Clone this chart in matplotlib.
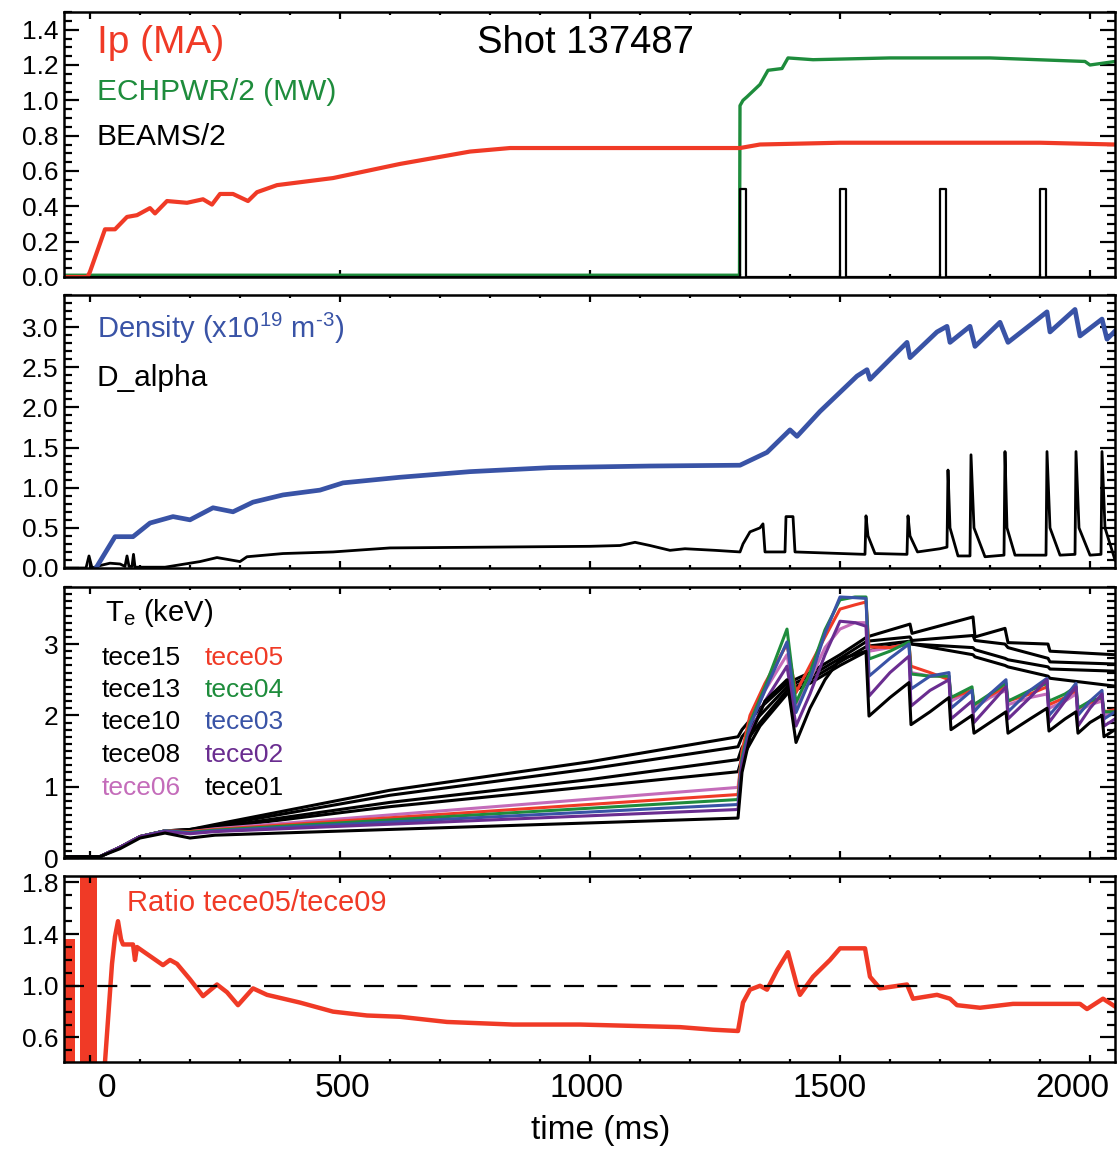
import matplotlib
matplotlib.use("Agg")
import matplotlib.pyplot as plt
from matplotlib.ticker import MultipleLocator, FixedLocator, FormatStrFormatter
from matplotlib.transforms import ScaledTranslation

plt.rcParams['font.family'] = ['Liberation Sans', 'DejaVu Sans']
plt.rcParams['mathtext.fontset'] = 'custom'
plt.rcParams['mathtext.rm'] = 'Liberation Sans'
plt.rcParams['mathtext.it'] = 'Liberation Sans:italic'

# --- Farben ---
RED = "#f03a26"
GREEN = "#1e8c3c"
BLUE = "#3953a6"
PURPLE = "#6a2d90"
MAGENTA = "#c46cba"

# --- Panel 1: Ip, ECH, Beams ---
ip_t = [-52, -5, 0, 30, 50, 74, 94, 120, 130, 154, 194, 226, 244, 260, 286, 316, 334,
        374, 486, 620, 760, 840, 1000, 1200, 1300, 1340, 1500, 1700, 1900, 2050]
ip_v = [0.0, 0.0, 0.03, 0.27, 0.27, 0.34, 0.35, 0.39, 0.36, 0.43, 0.42, 0.44, 0.41, 0.47,
        0.47, 0.43, 0.48, 0.52, 0.56, 0.64, 0.71, 0.73, 0.73, 0.73, 0.73, 0.75, 0.76,
        0.76, 0.76, 0.75]

ech_t = [-52, 1299, 1300, 1306, 1314, 1340, 1356, 1384, 1396, 1446, 1600, 1800, 1990,
         2000, 2050]
ech_v = [0.01, 0.01, 0.97, 1.0, 1.02, 1.09, 1.17, 1.18, 1.24, 1.23, 1.24, 1.24, 1.22,
         1.2, 1.22]

beam_on = [1300, 1500, 1700, 1900]   # Pulsbeginn (ms)
beam_len = 12                          # Pulsdauer (ms)
beam_level = 0.5

# --- Panel 2: Dichte, D_alpha ---
ne_t = [12, 50, 86, 120, 166, 200, 246, 286, 326, 386, 460, 506, 620, 760, 920, 1120,
        1300, 1354, 1400, 1414, 1460, 1534, 1554, 1560, 1634, 1640, 1694, 1714, 1720,
        1760, 1770, 1820, 1836, 1914, 1920, 1970, 1980, 2024, 2034, 2050]
ne_v = [0.0, 0.39, 0.39, 0.56, 0.64, 0.60, 0.75, 0.70, 0.82, 0.91, 0.97, 1.06, 1.13,
        1.20, 1.25, 1.27, 1.28, 1.44, 1.72, 1.64, 1.95, 2.39, 2.47, 2.35, 2.81, 2.62,
        2.94, 3.01, 2.81, 3.01, 2.76, 3.06, 2.81, 3.19, 2.94, 3.22, 2.89, 3.10, 2.85,
        2.95]

da_t = [-52, -8, -2, 4, 20, 40, 60, 70, 74, 78, 84, 87, 90, 150, 220, 254, 300, 314,
        386, 486, 600, 800, 1000, 1060, 1090, 1120, 1160, 1190, 1250, 1300, 1306, 1320,
        1340, 1346, 1350, 1390, 1392, 1406, 1410, 1550, 1552, 1556, 1570, 1634, 1636,
        1640, 1655, 1700, 1714, 1716, 1720, 1736, 1760, 1762, 1768, 1790, 1828, 1830,
        1834, 1850, 1912, 1914, 1920, 1940, 1970, 1972, 1978, 2000, 2022, 2024, 2030,
        2050]
da_v = [0.0, 0.0, 0.15, 0.0, 0.03, 0.06, 0.05, 0.02, 0.15, 0.02, 0.02, 0.17, 0.01,
        0.01, 0.08, 0.13, 0.08, 0.14, 0.18, 0.20, 0.25, 0.26, 0.27, 0.28, 0.32, 0.28,
        0.22, 0.24, 0.22, 0.20, 0.30, 0.45, 0.50, 0.55, 0.20, 0.20, 0.64, 0.64, 0.20,
        0.17, 0.65, 0.40, 0.18, 0.17, 0.65, 0.40, 0.20, 0.24, 0.26, 1.22, 0.50, 0.15,
        0.15, 1.41, 0.50, 0.14, 0.16, 1.45, 0.50, 0.16, 0.16, 1.45, 0.50, 0.16, 0.17,
        1.45, 0.50, 0.16, 0.17, 1.45, 0.50, 0.10]

# --- Panel 3: Te (keV) ---
te_early_t = [-52, 20, 60, 100, 150, 200, 250, 1296]
te_post_t = [1304, 1320, 1350, 1394, 1412, 1440, 1470, 1500, 1530, 1552, 1558, 1600,
             1638, 1642, 1680, 1718, 1722, 1764, 1768, 1800, 1832, 1836, 1880, 1914,
             1918, 1950, 1972, 1976, 2000, 2024, 2028, 2050]

tece06 = [0.02, 0.02, 0.15, 0.30, 0.38, 0.37, 0.41, 0.99,
          1.45, 1.90, 2.35, 2.85, 2.10, 2.50, 2.95, 3.21, 3.30, 3.30, 2.90, 2.95, 3.00,
          2.60, 2.55, 2.55, 2.20, 2.35, 2.10, 2.25, 2.35, 2.15, 2.25, 2.30, 2.10, 2.20,
          2.30, 2.05, 2.15, 2.20, 2.00, 2.05]
tece05 = [0.02, 0.02, 0.15, 0.30, 0.38, 0.37, 0.40, 0.89,
          1.50, 2.00, 2.45, 3.00, 2.32, 2.70, 3.10, 3.49, 3.55, 3.59, 2.96, 2.95, 3.00,
          2.69, 2.60, 2.50, 2.25, 2.35, 2.15, 2.28, 2.40, 2.20, 2.30, 2.40, 2.15, 2.25,
          2.35, 2.10, 2.18, 2.25, 2.05, 2.08]
tece04 = [0.02, 0.02, 0.15, 0.30, 0.38, 0.36, 0.39, 0.82,
          1.40, 1.90, 2.40, 3.21, 2.18, 2.60, 3.20, 3.62, 3.66, 3.66, 2.79, 2.90, 3.03,
          2.58, 2.55, 2.55, 2.25, 2.40, 2.15, 2.30, 2.45, 2.20, 2.35, 2.45, 2.20, 2.30,
          2.40, 2.10, 2.20, 2.25, 2.05, 2.05]
tece03 = [0.02, 0.02, 0.15, 0.30, 0.38, 0.35, 0.38, 0.75,
          1.35, 1.85, 2.35, 3.03, 2.04, 2.50, 3.15, 3.66, 3.65, 3.64, 2.55, 2.80, 3.00,
          2.37, 2.55, 2.60, 2.10, 2.35, 2.05, 2.30, 2.50, 2.05, 2.35, 2.52, 2.00, 2.25,
          2.45, 2.00, 2.20, 2.35, 1.95, 2.05]
tece02 = [0.02, 0.02, 0.15, 0.30, 0.37, 0.34, 0.37, 0.68,
          1.30, 1.75, 2.20, 2.69, 1.85, 2.30, 2.85, 3.32, 3.30, 3.25, 2.27, 2.60, 2.83,
          2.13, 2.35, 2.50, 1.95, 2.20, 1.90, 2.15, 2.40, 1.95, 2.25, 2.50, 1.90, 2.20,
          2.40, 1.85, 2.10, 2.30, 1.85, 1.95]
tece01 = [0.02, 0.02, 0.13, 0.28, 0.35, 0.28, 0.32, 0.56,
          1.20, 1.70, 2.20, 2.50, 1.62, 2.10, 2.50, 2.79, 2.85, 2.90, 1.99, 2.25, 2.46,
          1.87, 2.05, 2.25, 1.80, 2.00, 1.75, 1.90, 2.05, 1.75, 1.95, 2.10, 1.78, 1.95,
          2.05, 1.75, 1.90, 2.00, 1.70, 1.80]

te_edge_early_t = [-52, 20, 60, 100, 150, 200, 250, 600, 1000, 1296]
te_edge_post_t = [1304, 1340, 1394, 1440, 1500, 1554, 1640, 1644, 1766, 1770, 1830,
                  1836, 1916, 1920, 2050]
tece15 = [0.02, 0.02, 0.15, 0.30, 0.38, 0.40, 0.47, 0.95, 1.35, 1.70,
          1.80, 2.10, 2.45, 2.60, 2.85, 3.10, 3.28, 3.15, 3.38, 3.10, 3.22, 3.02, 3.00,
          2.90, 2.85]
tece13 = [0.02, 0.02, 0.15, 0.30, 0.38, 0.40, 0.45, 0.88, 1.25, 1.56,
          1.70, 2.00, 2.40, 2.55, 2.80, 3.04, 3.10, 3.05, 3.12, 3.05, 3.00, 2.95, 2.80,
          2.75, 2.72]
tece10 = [0.02, 0.02, 0.15, 0.30, 0.38, 0.39, 0.43, 0.78, 1.10, 1.38,
          1.55, 1.90, 2.35, 2.50, 2.75, 2.97, 3.04, 3.00, 2.95, 2.92, 2.80, 2.78, 2.68,
          2.65, 2.62]
tece08 = [0.02, 0.02, 0.15, 0.30, 0.38, 0.38, 0.42, 0.72, 1.00, 1.21,
          1.40, 1.85, 2.30, 2.45, 2.70, 2.90, 3.03, 3.00, 2.85, 2.82, 2.70, 2.68, 2.55,
          2.52, 2.41]

# --- Panel 4: Verhältnis tece05/tece09 ---
ratio_t = [30, 44, 50, 56, 62, 66, 86, 90, 94, 120, 146, 160, 174, 200, 226, 254, 274,
           296, 326, 354, 420, 486, 554, 620, 714, 846, 980, 1180, 1246, 1296, 1306, 1320,
           1340, 1354, 1374, 1396, 1414, 1420, 1446, 1480, 1500, 1550, 1560, 1580, 1634,
           1646, 1694, 1720, 1734, 1780, 1846, 1914, 1980, 1994, 2026, 2050]
ratio_v = [0.41, 1.17, 1.38, 1.50, 1.36, 1.32, 1.32, 1.20, 1.30, 1.23, 1.16, 1.20, 1.17,
           1.05, 0.92, 1.01, 0.95, 0.85, 0.98, 0.93, 0.87, 0.80, 0.77, 0.76, 0.72, 0.70,
           0.70, 0.68, 0.66, 0.65, 0.87, 0.97, 1.00, 0.97, 1.12, 1.26, 1.00, 0.93, 1.07,
           1.20, 1.29, 1.29, 1.07, 0.98, 1.01, 0.90, 0.93, 0.90, 0.85, 0.83, 0.86, 0.86,
           0.86, 0.82, 0.90, 0.84]
# Rauschbänder vor dem Plasmastart
band1_t = [-50, -30]
band1_lo = [0.40, 0.40]
band1_hi = [1.36, 1.36]
band2_t = [-20, 14]
band2_lo = [0.40, 0.40]
band2_hi = [1.90, 1.90]

XLIM = (-52, 2050)
x_ticks = [0, 500, 1000, 1500, 2000]
# im Original sind die Zeit-Beschriftungen leicht gegen die Ticks versetzt (Pixel)
x_label_shift = [17, 2, -3, -10, -18]


def style_axis(ax, ylim, yticks, ymin_step, fmt):
    ax.set_xlim(*XLIM)
    ax.set_ylim(*ylim)
    ax.xaxis.set_major_locator(FixedLocator(x_ticks))
    ax.xaxis.set_minor_locator(MultipleLocator(100))
    ax.yaxis.set_major_locator(FixedLocator(yticks))
    ax.yaxis.set_minor_locator(MultipleLocator(ymin_step))
    ax.yaxis.set_major_formatter(FormatStrFormatter(fmt))
    ax.tick_params(which="both", direction="in", top=True, right=True, width=1.6)
    ax.tick_params(axis="x", which="major", length=5)
    ax.tick_params(axis="x", which="minor", length=2.5)
    ax.tick_params(axis="y", which="major", length=11, labelsize=19, pad=4)
    ax.tick_params(axis="y", which="minor", length=6)
    for s in ax.spines.values():
        s.set_linewidth(1.8)


def main():
    fig = plt.figure(figsize=(11.2, 11.5), dpi=100)
    L, W = 64 / 1120, 1051 / 1120

    def rect(top, bottom):
        return [L, 1 - bottom / 1150, W, (bottom - top) / 1150]

    ax1 = fig.add_axes(rect(12, 277))
    ax2 = fig.add_axes(rect(295, 568))
    ax3 = fig.add_axes(rect(587, 858))
    ax4 = fig.add_axes(rect(876, 1062))

    # Panel 1
    bt, bv = [XLIM[0]], [0.0]
    for t0 in beam_on:
        bt += [t0, t0, t0 + beam_len, t0 + beam_len]
        bv += [0.0, beam_level, beam_level, 0.0]
    bt.append(XLIM[1])
    bv.append(0.0)
    ax1.plot(ech_t, ech_v, color=GREEN, lw=2.4)
    ax1.plot(bt, bv, color="black", lw=1.6)
    ax1.plot(ip_t, ip_v, color=RED, lw=3.0)
    style_axis(ax1, (0, 1.5), [0.0, 0.2, 0.4, 0.6, 0.8, 1.0, 1.2, 1.4], 0.05, "%.1f")
    ax1.set_xticklabels([])
    ax1.text(0.031, 0.883, "Ip (MA)", color=RED, fontsize=28, va="center",
             transform=ax1.transAxes)
    ax1.text(0.031, 0.698, "ECHPWR/2 (MW)", color=GREEN, fontsize=21.5, va="center",
             transform=ax1.transAxes)
    ax1.text(0.031, 0.528, "BEAMS/2", color="black", fontsize=21.5, va="center",
             transform=ax1.transAxes)
    ax1.text(0.393, 0.883, "Shot 137487", color="black", fontsize=27.5, va="center",
             transform=ax1.transAxes)

    # Panel 2
    ax2.plot(da_t, da_v, color="black", lw=2.0)
    ax2.plot(ne_t, ne_v, color=BLUE, lw=3.4)
    style_axis(ax2, (0, 3.4), [0.0, 0.5, 1.0, 1.5, 2.0, 2.5, 3.0], 0.1, "%.1f")
    ax2.set_xticklabels([])
    ax2.text(0.031, 0.879, r"Density (x10$^{19}$ m$^{\text{-}3}$)", color=BLUE,
             fontsize=21, va="center", transform=ax2.transAxes)
    ax2.text(0.031, 0.696, "D_alpha", color="black", fontsize=21.5, va="center",
             transform=ax2.transAxes)

    # Panel 3
    for ch in (tece15, tece13, tece10, tece08):
        ax3.plot(te_edge_early_t + te_edge_post_t, ch, color="black", lw=2.2)
    for ch, c in ((tece06, MAGENTA), (tece05, RED), (tece04, GREEN), (tece03, BLUE),
                  (tece02, PURPLE), (tece01, "black")):
        ax3.plot(te_early_t + te_post_t, ch, color=c, lw=2.2)
    style_axis(ax3, (0, 3.8), [0, 1, 2, 3], 0.1, "%d")
    ax3.set_xticklabels([])
    ax3.text(0.039, 0.904, r"T$_{\rm e}$ (keV)", color="black", fontsize=21,
             va="center", transform=ax3.transAxes)
    rows = [0.738, 0.620, 0.502, 0.380, 0.258]
    col1 = [("tece15", "black"), ("tece13", "black"), ("tece10", "black"),
            ("tece08", "black"), ("tece06", MAGENTA)]
    col2 = [("tece05", RED), ("tece04", GREEN), ("tece03", BLUE), ("tece02", PURPLE),
            ("tece01", "black")]
    for y, (n1, c1), (n2, c2) in zip(rows, col1, col2):
        ax3.text(0.036, y, n1, color=c1, fontsize=19, va="center", transform=ax3.transAxes)
        ax3.text(0.134, y, n2, color=c2, fontsize=19, va="center", transform=ax3.transAxes)

    # Panel 4
    ax4.fill_between(band1_t, band1_lo, band1_hi, color=RED, lw=0)
    ax4.fill_between(band2_t, band2_lo, band2_hi, color=RED, lw=0)
    ax4.plot(ratio_t, ratio_v, color=RED, lw=3.2)
    ax4.axhline(1.0, color="black", lw=1.6, ls=(0, (9, 6)))
    style_axis(ax4, (0.41, 1.85), [0.6, 1.0, 1.4, 1.8], 0.1, "%.1f")
    ax4.tick_params(axis="x", which="major", pad=8)
    for lbl, dx in zip(ax4.get_xticklabels(), x_label_shift):
        lbl.set_fontfamily(["Liberation Sans Narrow", "Liberation Sans"])
        lbl.set_fontsize(24)
        lbl.set_transform(lbl.get_transform() + ScaledTranslation(dx / 100, 0, fig.dpi_scale_trans))
    ax4.text(0.060, 0.855, "Ratio tece05/tece09", color=RED, fontsize=21, va="center",
             transform=ax4.transAxes)
    fig.text(0.536, 0.017, "time (ms)", fontsize=24, ha="center", va="center",
             family=["Liberation Sans Narrow", "Liberation Sans"])

    fig.savefig("out.png", dpi=100)


if __name__ == "__main__":
    main()
